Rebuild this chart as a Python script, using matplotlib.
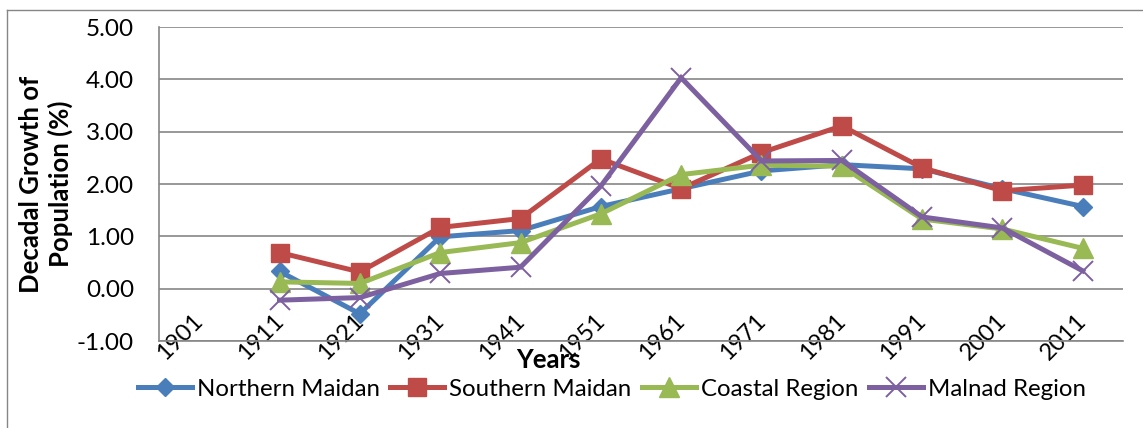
import numpy as np
import matplotlib
matplotlib.use("Agg")
import matplotlib.pyplot as plt
import matplotlib.transforms as mtransforms

years = ["1901", "1911", "1921", "1931", "1941", "1951", "1961", "1971", "1981", "1991", "2001", "2011"]

northern_maidan = [np.nan, 0.33, -0.48, 0.99, 1.11, 1.57, 1.91, 2.25, 2.37, 2.29, 1.91, 1.57]
southern_maidan = [np.nan, 0.69, 0.32, 1.17, 1.34, 2.48, 1.91, 2.60, 3.11, 2.31, 1.87, 1.98]
coastal_region = [np.nan, 0.13, 0.10, 0.69, 0.88, 1.43, 2.18, 2.36, 2.34, 1.33, 1.14, 0.77]
malnad_region = [np.nan, -0.22, -0.17, 0.29, 0.41, 1.96, 4.03, 2.44, 2.45, 1.37, 1.16, 0.34]

series = [
    ("Northern Maidan", northern_maidan, "#4A7EBB", "D", 9.5),
    ("Southern Maidan", southern_maidan, "#BE4B48", "s", 13.5),
    ("Coastal Region", coastal_region, "#98B954", "^", 14),
    ("Malnad Region", malnad_region, "#7D60A0", "x", 14),
]

plt.rcParams['font.family'] = ['Lato', 'DejaVu Sans']

fig = plt.figure(figsize=(11.43, 4.28), dpi=100)
ax = fig.add_axes([159 / 1143, 1 - 341 / 428, (1123 - 159) / 1143, (341 - 27) / 428])

x = np.arange(len(years))
for name, vals, color, marker, ms in series:
    if marker == "x":
        ax.plot(x, vals, color=color, lw=3.6, marker=marker, ms=ms, mew=1.4,
                label=name, solid_joinstyle="miter")
    else:
        ax.plot(x, vals, color=color, lw=3.6, marker=marker, ms=ms, mec=color,
                label=name, solid_joinstyle="miter")

ax.set_xlim(-0.5, len(years) - 0.5)
ax.set_ylim(-1, 5)
ax.set_yticks(np.arange(-1, 6, 1))
ax.set_yticklabels([f"{v:.2f}" for v in np.arange(-1, 6, 1)], fontsize=17.5)
ax.yaxis.grid(True, color="#868686", lw=1.2)
ax.set_axisbelow(True)
for side in ["top", "right"]:
    ax.spines[side].set_visible(False)
for side in ["left", "bottom"]:
    ax.spines[side].set_color("#868686")
    ax.spines[side].set_linewidth(1.2)
ax.tick_params(axis="y", length=0, pad=18)

ax.set_xticks(x)
ax.set_xticklabels(years, fontsize=17, rotation=45, ha="center", va="center")
ax.tick_params(axis="x", length=0, pad=-3)
shift = mtransforms.ScaledTranslation(-19 / 100, 0, fig.dpi_scale_trans)
for lab in ax.get_xticklabels():
    lab.set_transform(lab.get_transform() + shift)

fig.text(46 / 1143, 1 - 184 / 428, "Decadal Growth of\nPopulation (%)", rotation=90,
         ha="center", va="center", multialignment="center", fontsize=18.5,
         fontweight="bold", linespacing=1.25)
fig.text(548 / 1143, 1 - 360 / 428, "Years", ha="center", va="center",
         fontsize=18.5, fontweight="bold")

fig.legend(loc="center", bbox_to_anchor=(612 / 1143, 1 - 389 / 428), ncol=4,
           frameon=False, fontsize=17.3, handlelength=2.25, handletextpad=0.2,
           columnspacing=0.45)

# chart area border (top and left edges visible in the reference)
fig.add_artist(plt.Line2D([7 / 1143, 7 / 1143], [0, 1 - 10 / 428], transform=fig.transFigure,
                          color="#868686", lw=1))
fig.add_artist(plt.Line2D([7 / 1143, 1], [1 - 10 / 428, 1 - 10 / 428], transform=fig.transFigure,
                          color="#868686", lw=1))

fig.savefig("out.png", dpi=100)
